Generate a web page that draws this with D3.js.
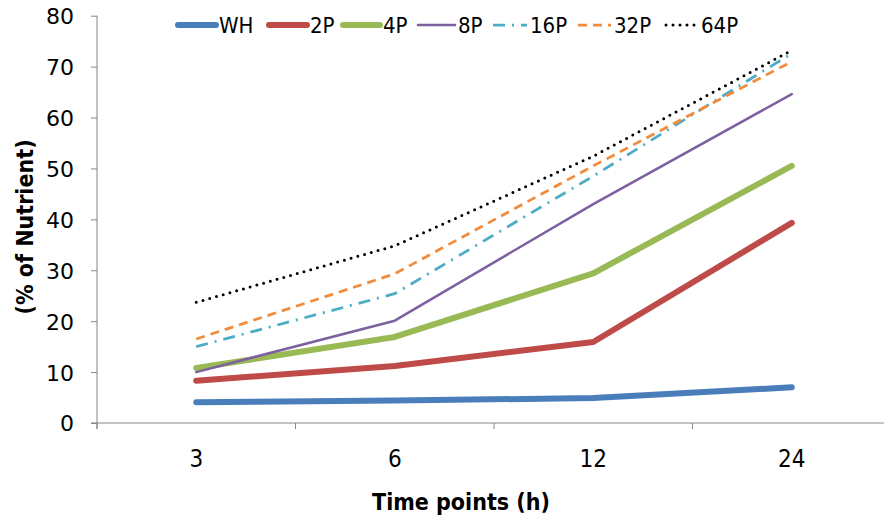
<!DOCTYPE html>
<html><head><meta charset="utf-8">
<script src="https://cdn.jsdelivr.net/npm/d3@7"></script>
<style>body{margin:0;background:#fff}svg{display:block}</style>
</head><body>
<svg id="chart" width="884" height="521"></svg>
<script>
const categories = ["3", "6", "12", "24"];
const seriesNames = ["WH", "2P", "4P", "8P", "16P", "32P", "64P"];
const WH  = [4.1, 4.4, 4.9, 7.0];
const P2  = [8.3, 11.2, 15.9, 39.3];
const P4  = [10.8, 16.9, 29.4, 50.5];
const P8  = [10.0, 20.1, 43.0, 64.6];
const P16 = [15.0, 25.4, 48.5, 72.6];
const P32 = [16.5, 29.3, 50.5, 71.0];
const P64 = [23.7, 34.8, 52.4, 73.2];
const yTicks = [0, 10, 20, 30, 40, 50, 60, 70, 80];

const seriesValues = [WH, P2, P4, P8, P16, P32, P64];
const styles = [
  {color: "#4A7EBB", w: 6, dash: null},
  {color: "#BE4B48", w: 6, dash: null},
  {color: "#98B954", w: 6, dash: null},
  {color: "#7D60A0", w: 2.5, dash: null},
  {color: "#4BACC6", w: 2.75, dash: "12 7 2 7"},
  {color: "#F08C3C", w: 2.75, dash: "9 6"},
  {color: "#000000", w: 3, dash: "0 7", cap: "round"}
];

const svg = d3.select("#chart");
const mLeft = 97, mRight = 891, mTop = 15.7, mBottom = 423;
const x = d3.scaleBand().domain(categories).range([mLeft, mRight]).padding(0);
const y = d3.scaleLinear().domain([0, 80]).range([mBottom, mTop]);
const comic = "'Comic Sans MS', 'DejaVu Sans Condensed', 'DejaVu Sans', sans-serif";

// y axis
const yAxis = svg.append("g").attr("transform", `translate(${mLeft},0)`)
  .call(d3.axisLeft(y).tickValues(yTicks).tickSize(6).tickPadding(17).tickSizeOuter(0));
yAxis.select(".domain").attr("stroke", "#868686").attr("d", `M0,${mTop}V${mBottom + 6}`);
yAxis.selectAll(".tick line").attr("stroke", "#868686");
yAxis.selectAll(".tick text").attr("font-family", "'DejaVu Sans', Verdana, sans-serif")
  .attr("font-size", 22).attr("fill", "#000").attr("dy", "0.36em");

// x axis
const xAxis = svg.append("g").attr("transform", `translate(0,${mBottom})`)
  .call(d3.axisBottom(x).tickSize(0).tickPadding(0).tickSizeOuter(0));
xAxis.select(".domain").attr("stroke", "#868686").attr("d", `M${mLeft - 6},0H${mRight}`);
xAxis.selectAll(".tick text").attr("font-family", comic).attr("font-size", 24)
  .attr("fill", "#000").attr("dy", "0").attr("y", 44);
const bounds = categories.map(c => x(c)).concat([mRight]);
svg.append("g").selectAll("line").data(bounds).join("line")
  .attr("x1", d => d).attr("x2", d => d).attr("y1", mBottom).attr("y2", mBottom + 6)
  .attr("stroke", "#868686");

// titles
svg.append("text").attr("x", 461).attr("y", 510).attr("text-anchor", "middle")
  .attr("font-family", comic).attr("font-weight", "bold").attr("font-size", 23)
  .text("Time points (h)");
svg.append("text").attr("transform", "translate(33,227) rotate(-90)").attr("text-anchor", "middle")
  .attr("font-family", comic).attr("font-weight", "bold").attr("font-size", 23)
  .text("(% of Nutrient)");

// lines
const line = d3.line().x((d, i) => x(categories[i]) + x.bandwidth() / 2).y(d => y(d));
const order = [0, 1, 2, 3, 4, 5, 6];
svg.append("g").selectAll("path").data(order).join("path")
  .attr("d", i => line(seriesValues[i]))
  .attr("fill", "none")
  .attr("stroke", i => styles[i].color)
  .attr("stroke-width", i => styles[i].w)
  .attr("stroke-dasharray", i => styles[i].dash)
  .attr("stroke-linecap", i => styles[i].cap || (styles[i].dash ? "butt" : "round"))
  .attr("stroke-linejoin", "round");

// legend
const legX = [178, 269, 343, 418, 493, 578, 666];
const legLen = [38, 38, 37, 37, 34, 33, 32];
const legY = 25;
const leg = svg.append("g").selectAll("g").data(order).join("g");
leg.append("line")
  .attr("x1", i => legX[i]).attr("x2", i => legX[i] + legLen[i])
  .attr("y1", legY).attr("y2", legY)
  .attr("stroke", i => styles[i].color)
  .attr("stroke-width", i => styles[i].w)
  .attr("stroke-dasharray", i => styles[i].dash)
  .attr("stroke-linecap", i => styles[i].cap || (styles[i].dash ? "butt" : "round"));
leg.append("text")
  .attr("x", i => legX[i] + legLen[i] + 3).attr("y", 33)
  .attr("font-family", comic).attr("font-size", 22).attr("fill", "#000")
  .text(i => seriesNames[i]);
</script>
</body></html>
